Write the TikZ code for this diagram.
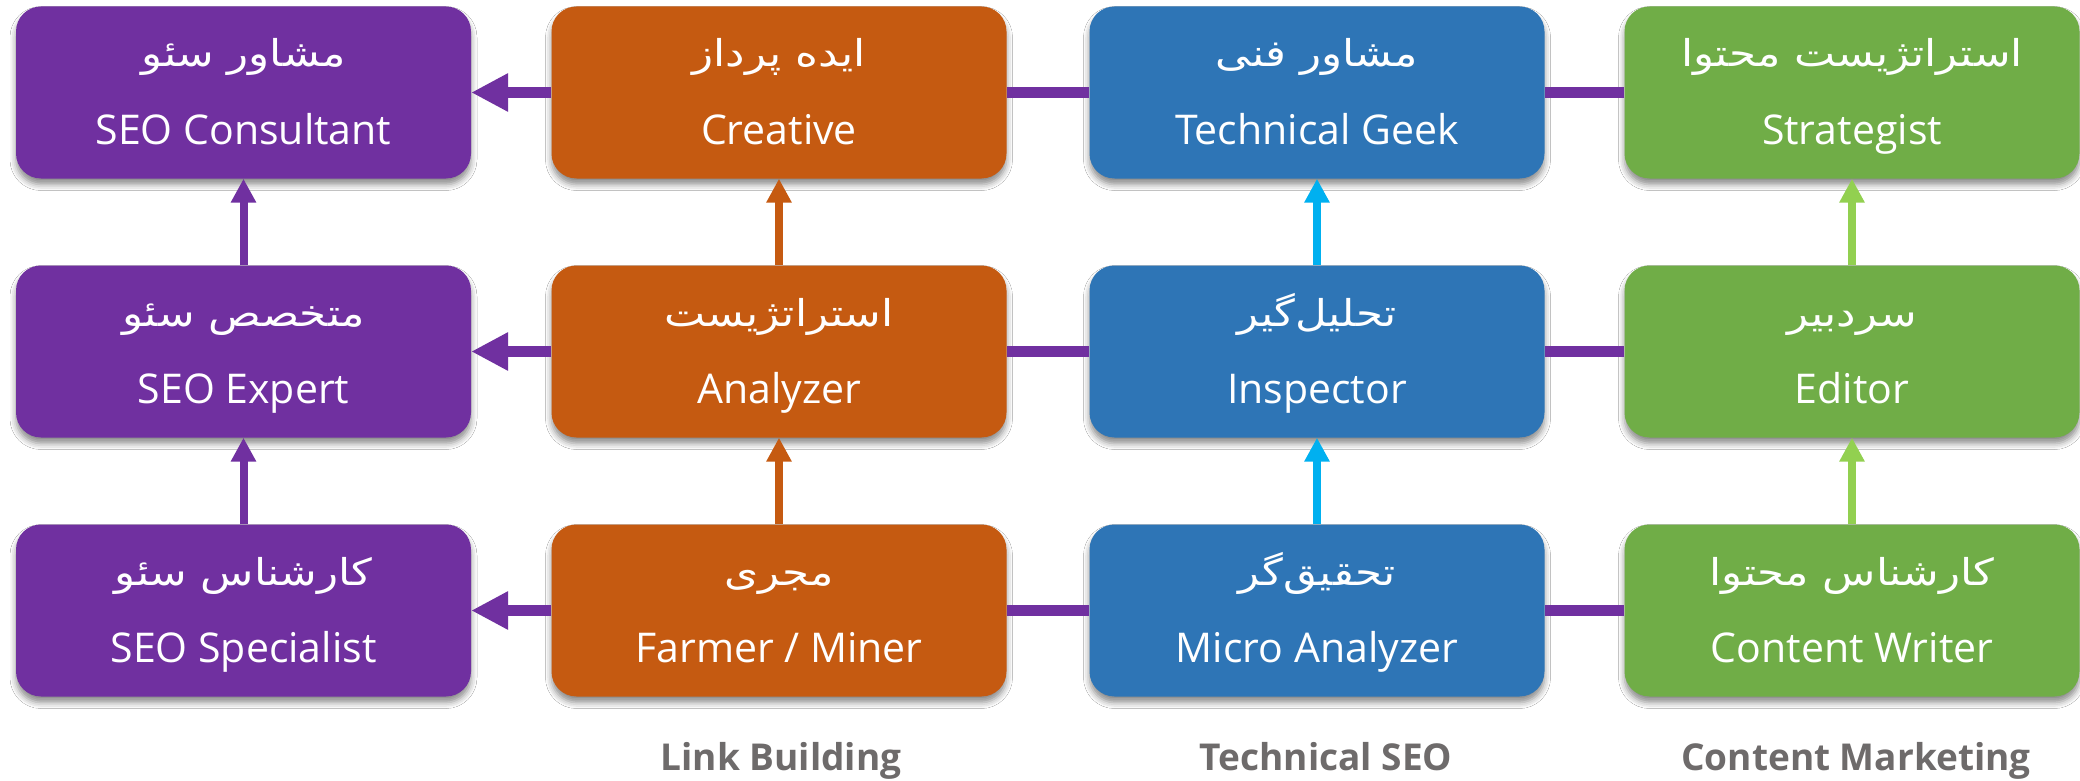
\documentclass[tikz,border=0pt]{standalone}
\usepackage{fontspec}
\setmainfont{Open Sans}
\newfontfamily\fafont[Script=Arabic,FakeStretch=1.18]{DejaVu Sans}
\TeXXeTstate=1
\usetikzlibrary{arrows.meta,shadows.blur}
\definecolor{cpurple}{HTML}{7030A0}
\definecolor{corange}{HTML}{C55A11}
\definecolor{cblue}{HTML}{2E75B6}
\definecolor{cgreen}{HTML}{70AD47}
\definecolor{ccyan}{HTML}{00B0F0}
\definecolor{clgreen}{HTML}{92D050}
\definecolor{cgray}{HTML}{6E6B6B}
\newcommand\rolebox[6]{%
  \node[rolebox, fill=#4] (#1) at (#2,#3) {};
  \node[fatext] (#1fa) at ([yshift=25.5pt]#1.center) {#5};
  \node[entext] (#1en) at ([yshift=-52pt]#1.center) {#6};
}
\begin{document}
\begin{tikzpicture}[x=1pt,y=-1pt,
  rolebox/.style={rectangle, rounded corners=25pt, minimum width=455pt, minimum height=172pt,
    inner sep=0pt, blur shadow={shadow xshift=0pt, shadow yshift=-6pt, shadow blur radius=6pt, shadow opacity=45}},
  entext/.style={font=\fontsize{41}{47}\selectfont, text=white, anchor=base, inner sep=0pt},
  fatext/.style={font=\fafont\fontsize{37}{44}\selectfont, text=white, anchor=base, inner sep=0pt},
  hline/.style={line width=11pt, cpurple},
  harrow/.style={line width=11pt, cpurple, -{Triangle[length=37pt,width=36pt]}},
  varrow/.style={line width=8pt, -{Triangle[length=24pt,width=24pt]}},
  cat/.style={font=\bfseries\fontsize{37}{42}\selectfont, text=cgray, anchor=base, inner sep=0pt}
]
\useasboundingbox[fill=white] (0,0) rectangle (2080,781);

\rolebox{a1}{243.5}{92.5}{cpurple}{\beginR مشاور سئو\endR}{SEO Consultant}
\rolebox{a2}{243.5}{351.5}{cpurple}{\beginR متخصص سئو\endR}{SEO Expert}
\rolebox{a3}{243.5}{610.5}{cpurple}{\beginR کارشناس سئو\endR}{SEO Specialist}

\rolebox{b1}{779}{92.5}{corange}{\beginR ایده پرداز\endR}{Creative}
\rolebox{b2}{779}{351.5}{corange}{\beginR استراتژیست\endR}{Analyzer}
\rolebox{b3}{779}{610.5}{corange}{\beginR مجری\endR}{Farmer / Miner}

\rolebox{c1}{1317}{92.5}{cblue}{\beginR مشاور فنی\endR}{Technical Geek}
\rolebox{c2}{1317}{351.5}{cblue}{\beginR تحلیل‌گیر\endR}{Inspector}
\rolebox{c3}{1317}{610.5}{cblue}{\beginR تحقیق‌گر\endR}{Micro Analyzer}

\rolebox{d1}{1852}{92.5}{cgreen}{\beginR استراتژیست محتوا\endR}{Strategist}
\rolebox{d2}{1852}{351.5}{cgreen}{\beginR سردبیر\endR}{Editor}
\rolebox{d3}{1852}{610.5}{cgreen}{\beginR کارشناس محتوا\endR}{Content Writer}

% horizontal connectors
\foreach \r in {1,2,3}{
  \draw[harrow] (b\r.west) -- (a\r.east);
  \draw[hline] (c\r.west) -- (b\r.east);
  \draw[hline] (d\r.west) -- (c\r.east);
}
% vertical arrows
\draw[varrow, cpurple] (a2.north) -- (a1.south);
\draw[varrow, cpurple] (a3.north) -- (a2.south);
\draw[varrow, corange] (b2.north) -- (b1.south);
\draw[varrow, corange] (b3.north) -- (b2.south);
\draw[varrow, ccyan] (c2.north) -- (c1.south);
\draw[varrow, ccyan] (c3.north) -- (c2.south);
\draw[varrow, clgreen] (d2.north) -- (d1.south);
\draw[varrow, clgreen] (d3.north) -- (d2.south);

% category labels
\node[cat] (lb) at (781,770) {Link Building};
\node[cat] (ts) at (1326,770) {Technical SEO};
\node[cat] (cm) at (1856,770) {Content Marketing};
\end{tikzpicture}
\end{document}
